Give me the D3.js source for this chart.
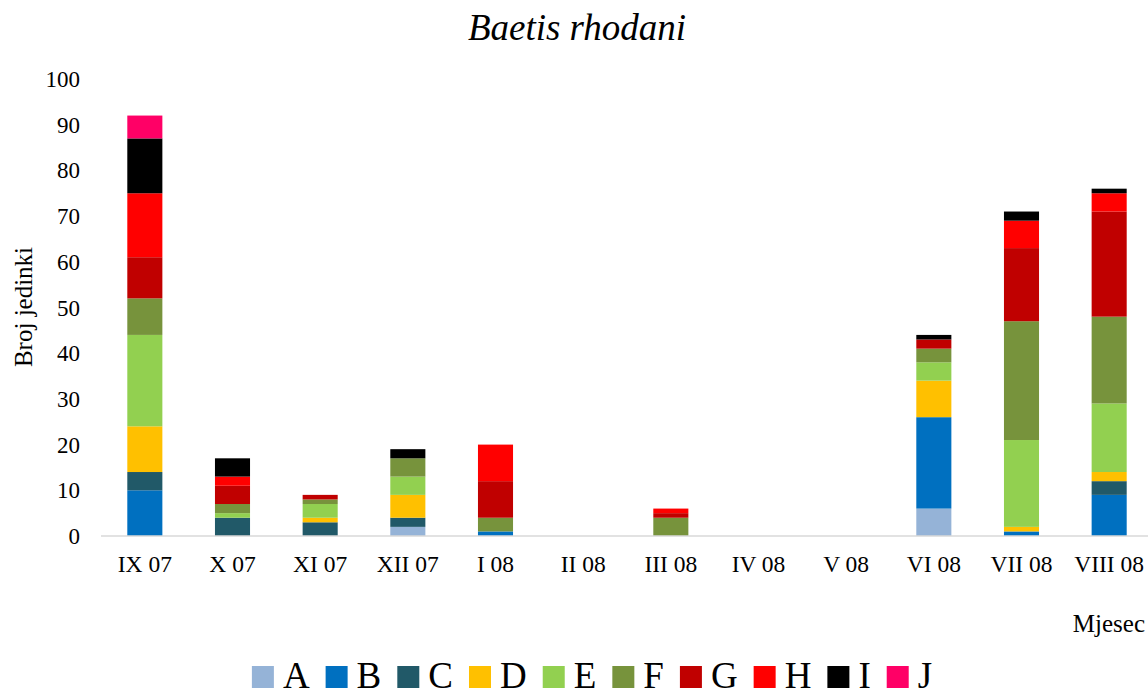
<!DOCTYPE html>
<html>
<head>
<meta charset="utf-8">
<script src="https://cdn.jsdelivr.net/npm/d3@7"></script>
<style>
  body { margin: 0; background: #fff; }
  svg text { font-family: "Liberation Serif", "Times New Roman", serif; fill: #000; }
</style>
</head>
<body>
<svg id="chart" width="1148" height="697"></svg>
<script>
// months on the x axis
let months = ["IX 07","X 07","XI 07","XII 07","I 08","II 08","III 08","IV 08","V 08","VI 08","VII 08","VIII 08"];
let seriesNames = ["A","B","C","D","E","F","G","H","I","J"];
let colors = ["#95b3d7","#0070c0","#215968","#ffc000","#92d050","#77933c","#c00000","#ff0000","#000000","#ff0066"];

// counts per series, one value per month
let valA = [0,0,0,2,0,0,0,0,0,6,0,0];
let valB = [10,0,0,0,1,0,0,0,0,20,1,9];
let valC = [4,4,3,2,0,0,0,0,0,0,0,3];
let valD = [10,0,1,5,0,0,0,0,0,8,1,2];
let valE = [20,1,3,4,0,0,0,0,0,4,19,15];
let valF = [8,2,1,4,3,0,4,0,0,3,26,19];
let valG = [9,4,1,0,8,0,1,0,0,2,16,23];
let valH = [14,2,0,0,8,0,1,0,0,0,6,4];
let valI = [12,4,0,2,0,0,0,0,0,1,2,1];
let valJ = [5,0,0,0,0,0,0,0,0,0,0,0];

let yTicks = [0,10,20,30,40,50,60,70,80,90,100];

let allVals = [valA,valB,valC,valD,valE,valF,valG,valH,valI,valJ];
let rows = months.map((m, i) => {
  let r = { month: m };
  seriesNames.forEach((s, k) => { r[s] = allVals[k][i]; });
  return r;
});

let svg = d3.select("#chart");
let plotLeft = 101, plotRight = 1153, plotTop = 79, plotBottom = 536;

let x = d3.scaleBand().domain(months).range([plotLeft, plotRight]).paddingInner(0.6).paddingOuter(0.3);
let y = d3.scaleLinear().domain([0, 100]).range([plotBottom, plotTop]);

let stacked = d3.stack().keys(seriesNames)(rows);

// title
svg.append("text")
  .attr("x", 577).attr("y", 40)
  .attr("text-anchor", "middle")
  .style("font-size", "37px")
  .style("font-style", "italic")
  .text("Baetis rhodani");

// bars
let layer = svg.selectAll("g.layer")
  .data(stacked)
  .enter()
  .append("g")
  .attr("class", "layer")
  .attr("fill", (d, i) => colors[i]);

layer.selectAll("rect")
  .data(d => d)
  .enter()
  .append("rect")
  .attr("x", d => x(d.data.month))
  .attr("width", x.bandwidth())
  .attr("y", d => y(d[1]))
  .attr("height", d => y(d[0]) - y(d[1]));

// baseline
svg.append("line")
  .attr("x1", plotLeft).attr("x2", 1148)
  .attr("y1", y(0)).attr("y2", y(0))
  .attr("stroke", "#d9d9d9").attr("stroke-width", 1.5);

// y tick labels
svg.selectAll("text.ytick")
  .data(yTicks)
  .enter()
  .append("text")
  .attr("class", "ytick")
  .attr("x", 80)
  .attr("y", d => y(d))
  .attr("dy", "0.35em")
  .attr("text-anchor", "end")
  .style("font-size", "23px")
  .text(d => d);

// x tick labels
svg.selectAll("text.xtick")
  .data(months)
  .enter()
  .append("text")
  .attr("class", "xtick")
  .attr("x", d => x(d) + x.bandwidth() / 2)
  .attr("y", 564)
  .attr("dy", "0.35em")
  .attr("text-anchor", "middle")
  .style("font-size", "23.5px")
  .text(d => d);

// axis titles
svg.append("text")
  .attr("transform", "translate(23,307) rotate(-90)")
  .attr("dy", "0.35em")
  .attr("text-anchor", "middle")
  .style("font-size", "25px")
  .text("Broj jedinki");

svg.append("text")
  .attr("x", 1145).attr("y", 623)
  .attr("dy", "0.35em")
  .attr("text-anchor", "end")
  .style("font-size", "25px")
  .text("Mjesec");

// legend
let BOX = 22, GAP = 9, ITEM_GAP = 16;
let legend = svg.append("g");
let lx = 0;
seriesNames.forEach((s, i) => {
  let g = legend.append("g").attr("transform", "translate(" + lx + ",0)");
  g.append("rect").attr("x", 0).attr("y", -BOX).attr("width", BOX).attr("height", BOX).attr("fill", colors[i]);
  let t = g.append("text").attr("x", BOX + GAP).attr("y", 0).style("font-size", "37px").text(s);
  let w = t.node().getComputedTextLength();
  lx += BOX + GAP + w + ITEM_GAP;
});
let legendW = lx - ITEM_GAP;
legend.attr("transform", "translate(" + (592 - legendW / 2) + ",688)");
</script>
</body>
</html>
